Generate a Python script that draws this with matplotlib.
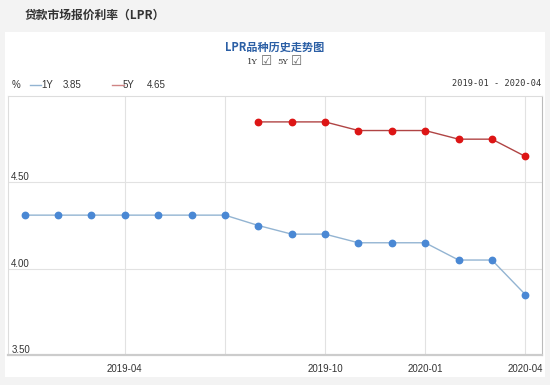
import numpy as np
import matplotlib
matplotlib.use("Agg")
import matplotlib.pyplot as plt
from matplotlib.patches import Rectangle
from matplotlib.lines import Line2D

plt.rcParams['font.family'] = ['Noto Sans CJK SC', 'DejaVu Sans']

months = ["2019-01", "2019-02", "2019-03", "2019-04", "2019-05", "2019-06", "2019-07",
          "2019-08", "2019-09", "2019-10", "2019-11", "2019-12", "2020-01", "2020-02",
          "2020-03", "2020-04"]
lpr_1y = [4.31, 4.31, 4.31, 4.31, 4.31, 4.31, 4.31, 4.25, 4.20, 4.20, 4.15, 4.15, 4.15,
          4.05, 4.05, 3.85]
lpr_5y = [np.nan] * 7 + [4.85, 4.85, 4.85, 4.80, 4.80, 4.80, 4.75, 4.75, 4.65]
grid_months = ["2019-04", "2019-07", "2019-10", "2020-01", "2020-04"]
label_months = ["2019-04", "2019-10", "2020-01", "2020-04"]
y_ticks = [4.00, 4.50]

NUMF = 'Liberation Sans'
W, H = 550, 385
fig = plt.figure(figsize=(5.5, 3.85), dpi=100)
fig.patch.set_facecolor('#f3f3f3')

# white panel
fig.patches.append(Rectangle((5 / W, 1 - 377 / H), 540 / W, (377 - 32) / H,
                             transform=fig.transFigure, facecolor='white',
                             edgecolor='none', zorder=-5))

ax = fig.add_axes([8 / W, 1 - 355 / H, (542 - 8) / W, (355 - 96) / H])
ax.set_zorder(2)
ax.set_facecolor('white')

x = np.arange(len(months))
ax.plot(x, lpr_1y, color='#93b4d2', lw=1.0, zorder=3)
ax.plot(x, lpr_1y, ls='none', marker='o', ms=4.6, color='#4a88d4', zorder=4)
ax.plot(x, lpr_5y, color='#b04444', lw=1.0, zorder=3)
ax.plot(x, lpr_5y, ls='none', marker='o', ms=4.6, color='#dd1515', zorder=4)

ax.set_xlim(-0.5, len(months) - 0.5)
ax.set_ylim(3.5, 5.0)

for m in grid_months:
    ax.axvline(months.index(m), color='#e2e2e2', lw=0.8, zorder=1)
for v in y_ticks:
    ax.axhline(v, color='#e2e2e2', lw=0.8, zorder=1)

ax.set_xticks([])
ax.set_yticks([])
for s in ['left', 'top']:
    ax.spines[s].set_color('#dddddd')
    ax.spines[s].set_linewidth(0.8)
ax.spines['right'].set_color('#bbbbbb')
ax.spines['right'].set_linewidth(0.8)
ax.spines['bottom'].set_color('#cccccc')
ax.spines['bottom'].set_linewidth(1.6)

for v in y_ticks + [3.5]:
    ax.text(0.006, v, f"{v:.2f}", transform=ax.get_yaxis_transform(),
            ha='left', va='bottom', fontsize=7, color='#333333', family=NUMF)

for m in label_months:
    ax.text(months.index(m), -0.035, m, transform=ax.get_xaxis_transform(),
            ha='center', va='top', fontsize=7, color='#333333', family=NUMF)

# titles and header
fig.text(25 / W, 1 - 15 / H, "贷款市场报价利率（LPR）", ha='left', va='center',
         fontsize=8.5, fontweight='bold', color='#333333')
fig.text(275 / W, 1 - 47 / H, "LPR品种历史走势图", ha='center', va='center',
         fontsize=8, fontweight='bold', color='#2b5fa5')
fig.text(258 / W, 1 - 62 / H, "1Y", ha='right', va='center', fontsize=6,
         color='#333333', family='DejaVu Serif')
fig.text(261 / W, 1 - 61.5 / H, "☑", ha='left', va='center', fontsize=9,
         color='#666666', family='DejaVu Sans')
fig.text(288 / W, 1 - 62 / H, "5Y", ha='right', va='center', fontsize=6,
         color='#333333', family='DejaVu Serif')
fig.text(291 / W, 1 - 61.5 / H, "☑", ha='left', va='center', fontsize=9,
         color='#666666', family='DejaVu Sans')

ly = 1 - 85 / H
fig.text(12 / W, ly, "%", ha='left', va='center', fontsize=7, color='#333333',
         family=NUMF)
fig.add_artist(Line2D([30 / W, 41 / W], [ly, ly], color='#93b4d2', lw=1.0,
                      transform=fig.transFigure))
fig.text(41 / W, ly, "1Y", ha='left', va='center', fontsize=7, color='#333333',
         family=NUMF)
fig.text(63 / W, ly, f"{lpr_1y[-1]:.2f}", ha='left', va='center', fontsize=7,
         color='#333333', family=NUMF)
fig.add_artist(Line2D([112 / W, 124 / W], [ly, ly], color='#d08585', lw=1.0,
                      transform=fig.transFigure))
fig.text(123 / W, ly, "5Y", ha='left', va='center', fontsize=7, color='#333333',
         family=NUMF)
fig.text(147 / W, ly, f"{lpr_5y[-1]:.2f}", ha='left', va='center', fontsize=7,
         color='#333333', family=NUMF)
fig.text(541 / W, 1 - 84 / H, f"{months[0]} - {months[-1]}", ha='right', va='center',
         fontsize=6.2, color='#333333', family='DejaVu Sans Mono')

fig.savefig("out.png", dpi=100, facecolor=fig.get_facecolor())
